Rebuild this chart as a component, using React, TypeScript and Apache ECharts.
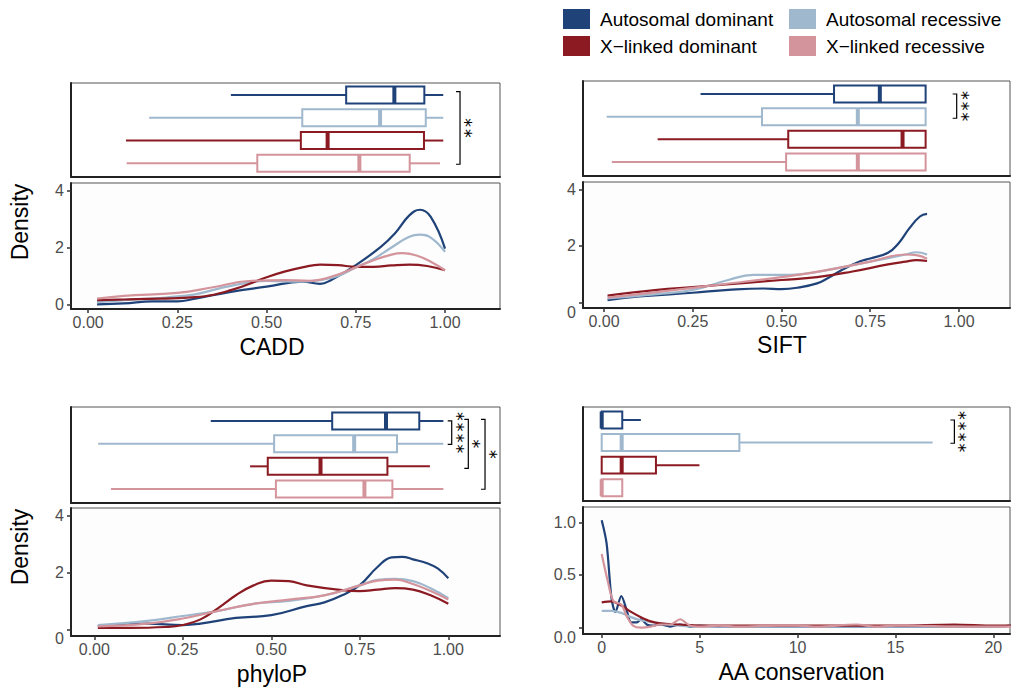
import React, { useEffect, useRef } from 'react';
import * as echarts from 'echarts';

const FONT = '"Liberation Sans", Arial, Helvetica, sans-serif';
const STAR_FONT = '"DejaVu Sans Mono", "Liberation Mono", monospace';

const GROUPS = ['Autosomal dominant', 'Autosomal recessive', 'X−linked dominant', 'X−linked recessive'];
const COLORS = ['#1f4279', '#9fb8cd', '#8b1a22', '#d4949c'];

const TITLES = ['CADD', 'SIFT', 'phyloP', 'AA conservation'];
const X_TICKS_SCORE = [0, 0.25, 0.5, 0.75, 1];
const X_TICKS_AA = [0, 5, 10, 15, 20];
const Y_TICKS_DENS = [0, 2, 4];
const Y_TICKS_AA = [0, 0.5, 1.0];

// box stats: [min, q1, median, q3, max] for AD, AR, XD, XR
const CADD_BOX = [
  [0.40, 0.723, 0.858, 0.942, 0.995],
  [0.171, 0.600, 0.818, 0.946, 0.995],
  [0.106, 0.596, 0.671, 0.941, 0.995],
  [0.108, 0.474, 0.760, 0.901, 0.986],
];
const SIFT_BOX = [
  [0.272, 0.648, 0.777, 0.906, 0.906],
  [0.0075, 0.445, 0.715, 0.906, 0.906],
  [0.151, 0.519, 0.841, 0.906, 0.906],
  [0.022, 0.513, 0.715, 0.906, 0.906],
];
const PHYLOP_BOX = [
  [0.329, 0.672, 0.824, 0.918, 0.986],
  [0.011, 0.508, 0.734, 0.855, 0.986],
  [0.44, 0.49, 0.639, 0.828, 0.948],
  [0.047, 0.513, 0.763, 0.842, 0.986],
];
const AA_BOX = [
  [0, 0, 0, 1.05, 2.0],
  [0, 0, 1.02, 7.03, 16.9],
  [0, 0, 1.02, 2.77, 4.99],
  [0, 0, 0, 1.05, 1.05],
];

// density curves [x, density]
const CADD_AD = [[0.025, 0.0], [0.1, 0.03], [0.18, 0.1], [0.25, 0.1], [0.3, 0.2], [0.4, 0.44], [0.5, 0.62], [0.6, 0.8], [0.65, 0.72], [0.68, 0.85], [0.75, 1.38], [0.82, 2.02], [0.86, 2.5], [0.9, 3.13], [0.93, 3.33], [0.96, 3.08], [1.0, 1.96]];
const CADD_AR = [[0.025, 0.08], [0.1, 0.15], [0.2, 0.22], [0.25, 0.28], [0.3, 0.35], [0.4, 0.65], [0.5, 0.82], [0.6, 0.8], [0.65, 0.85], [0.7, 1.0], [0.75, 1.3], [0.8, 1.6], [0.85, 2.0], [0.9, 2.38], [0.93, 2.45], [0.96, 2.35], [1.0, 1.85]];
const CADD_XD = [[0.025, 0.15], [0.1, 0.17], [0.2, 0.2], [0.3, 0.25], [0.4, 0.5], [0.5, 0.95], [0.55, 1.15], [0.6, 1.3], [0.65, 1.4], [0.7, 1.38], [0.75, 1.32], [0.8, 1.32], [0.85, 1.37], [0.9, 1.4], [0.95, 1.35], [1.0, 1.2]];
const CADD_XR = [[0.025, 0.2], [0.1, 0.3], [0.25, 0.4], [0.35, 0.6], [0.45, 0.82], [0.55, 0.85], [0.62, 0.83], [0.7, 1.05], [0.75, 1.3], [0.8, 1.55], [0.85, 1.75], [0.88, 1.8], [0.92, 1.72], [0.96, 1.5], [1.0, 1.2]];

const SIFT_AD = [[0.01, 0.09], [0.1, 0.22], [0.25, 0.35], [0.35, 0.45], [0.45, 0.5], [0.5, 0.48], [0.55, 0.54], [0.6, 0.68], [0.63, 0.86], [0.67, 1.15], [0.72, 1.45], [0.75, 1.56], [0.8, 1.76], [0.83, 2.1], [0.86, 2.62], [0.89, 3.04], [0.91, 3.13]];
const SIFT_AR = [[0.01, 0.15], [0.15, 0.3], [0.25, 0.45], [0.35, 0.8], [0.42, 0.98], [0.5, 0.98], [0.55, 1.0], [0.65, 1.2], [0.75, 1.45], [0.85, 1.7], [0.88, 1.78], [0.91, 1.7]];
const SIFT_XD = [[0.01, 0.25], [0.15, 0.45], [0.25, 0.55], [0.4, 0.7], [0.5, 0.8], [0.6, 0.9], [0.7, 1.1], [0.8, 1.35], [0.85, 1.45], [0.88, 1.5], [0.91, 1.47]];
const SIFT_XR = [[0.01, 0.18], [0.2, 0.45], [0.3, 0.6], [0.5, 0.9], [0.65, 1.2], [0.75, 1.45], [0.85, 1.7], [0.88, 1.68], [0.91, 1.55]];

const PHYLOP_AD = [[0.01, 0.1], [0.15, 0.2], [0.25, 0.15], [0.3, 0.2], [0.4, 0.4], [0.5, 0.5], [0.6, 0.82], [0.65, 0.95], [0.7, 1.2], [0.75, 1.56], [0.8, 2.2], [0.84, 2.54], [0.87, 2.56], [0.9, 2.47], [0.94, 2.33], [0.97, 2.15], [1.0, 1.8]];
const PHYLOP_AR = [[0.01, 0.15], [0.15, 0.3], [0.25, 0.47], [0.35, 0.65], [0.45, 0.9], [0.55, 1.0], [0.65, 1.2], [0.75, 1.55], [0.8, 1.75], [0.85, 1.78], [0.9, 1.7], [0.95, 1.45], [1.0, 1.1]];
const PHYLOP_XD = [[0.01, 0.05], [0.1, 0.05], [0.2, 0.08], [0.25, 0.15], [0.3, 0.35], [0.35, 0.75], [0.4, 1.2], [0.45, 1.55], [0.5, 1.72], [0.55, 1.7], [0.6, 1.55], [0.7, 1.38], [0.75, 1.35], [0.8, 1.4], [0.85, 1.45], [0.9, 1.4], [0.95, 1.2], [1.0, 0.9]];
const PHYLOP_XR = [[0.01, 0.1], [0.15, 0.2], [0.25, 0.38], [0.35, 0.65], [0.45, 0.9], [0.55, 1.05], [0.65, 1.2], [0.75, 1.55], [0.8, 1.72], [0.85, 1.75], [0.9, 1.6], [0.95, 1.35], [1.0, 1.05]];

const AA_AD = [[0, 1.02], [0.25, 0.8], [0.5, 0.28], [0.7, 0.15], [1.0, 0.3], [1.3, 0.15], [1.5, 0.05], [1.8, 0.05], [2.0, 0.08], [2.3, 0.03], [2.6, 0.02], [3.0, 0.03], [3.5, 0.01], [4.0, 0.03], [4.5, 0.01], [5, 0.02], [6, 0.01], [8, 0.01], [10, 0.01], [12, 0.01], [14, 0.01], [16, 0.01], [18, 0.01], [20, 0.01], [21, 0.02]];
const AA_AR = [[0, 0.16], [0.5, 0.16], [1, 0.14], [1.5, 0.1], [2, 0.07], [3, 0.04], [4, 0.02], [5, 0.01], [10, 0.01], [20, 0.01], [21, 0.02]];
const AA_XD = [[0, 0.24], [0.5, 0.25], [1, 0.21], [1.5, 0.15], [2, 0.1], [2.5, 0.06], [3, 0.04], [4, 0.03], [5, 0.02], [10, 0.02], [15, 0.02], [18, 0.03], [20, 0.02], [21, 0.02]];
const AA_XR = [[0, 0.7], [0.3, 0.45], [0.6, 0.25], [1, 0.22], [1.3, 0.1], [1.6, 0.02], [2, 0.0], [2.5, 0.01], [3, 0.03], [3.5, 0.03], [4, 0.08], [4.5, 0.02], [5, 0.01], [6, 0.02], [7, 0.01], [9, 0.02], [10, 0.02], [11, 0.01], [13, 0.03], [14, 0.01], [15, 0.02], [16, 0.02], [18, 0.01], [20, 0.01], [21, 0.01]];

// significance brackets: x position, from/to group position, label
const CADD_SIG = [{ x: 1.042, from: -0.145, to: 3.04, label: '**' }];
const SIFT_SIG = [{ x: 0.9935, from: 0, to: 1.07, label: '***' }];
const PHYLOP_SIG = [
  { x: 1.0096, from: -0.01, to: 1.03, label: '****' },
  { x: 1.0565, from: -0.075, to: 2.09, label: '*' },
  { x: 1.1037, from: -0.075, to: 3.01, label: '*' },
];
const AA_SIG = [{ x: 18.01, from: 0, to: 1.03, label: '****' }];

// layout
const PANELS = [
  {
    box: { left: 71, top: 83, width: 429, height: 94 }, dens: { left: 71, top: 183, width: 429, height: 126 },
    xr: [-0.048, 1.154], by: [-0.527, 3.601], dy: [-0.165, 4.271],
    xt: X_TICKS_SCORE, yt: Y_TICKS_DENS, xd: 2, yd: 0, zeroShift: false,
    boxes: CADD_BOX, curves: [CADD_AD, CADD_AR, CADD_XD, CADD_XR], sig: CADD_SIG,
    title: { x: 272, y: 346.5 }, ylab: { x: 20, y: 222 },
  },
  {
    box: { left: 583, top: 81, width: 427, height: 95 }, dens: { left: 583, top: 182, width: 427, height: 126 },
    xr: [-0.0592, 1.1437], by: [-0.573, 3.617], dy: [-0.187, 4.257],
    xt: X_TICKS_SCORE, yt: Y_TICKS_DENS, xd: 2, yd: 0, zeroShift: true,
    boxes: SIFT_BOX, curves: [SIFT_AD, SIFT_AR, SIFT_XD, SIFT_XR], sig: SIFT_SIG,
    title: { x: 782, y: 345 }, ylab: null,
  },
  {
    box: { left: 71, top: 407, width: 429, height: 96 }, dens: { left: 71, top: 508, width: 429, height: 128 },
    xr: [-0.0658, 1.146], by: [-0.618, 3.617], dy: [-0.237, 4.282],
    xt: X_TICKS_SCORE, yt: Y_TICKS_DENS, xd: 2, yd: 0, zeroShift: true,
    boxes: PHYLOP_BOX, curves: [PHYLOP_AD, PHYLOP_AR, PHYLOP_XD, PHYLOP_XR], sig: PHYLOP_SIG,
    title: { x: 272, y: 673.5 }, ylab: { x: 20, y: 547 },
  },
  {
    box: { left: 583, top: 407, width: 427, height: 94 }, dens: { left: 583, top: 507, width: 427, height: 127 },
    xr: [-0.955, 20.85], by: [-0.576, 3.589], dy: [-0.06, 1.145],
    xt: X_TICKS_AA, yt: Y_TICKS_AA, xd: 0, yd: 1, zeroShift: true,
    boxes: AA_BOX, curves: [AA_AD, AA_AR, AA_XD, AA_XR], sig: AA_SIG,
    title: { x: 801.5, y: 671.8 }, ylab: null,
  },
];

const BOX_HALF = 0.375;

function boxSeries(axisIdx: number, stats: number[][]) {
  return {
    type: 'custom',
    xAxisIndex: axisIdx,
    yAxisIndex: axisIdx,
    data: stats.map((s, i) => [i, ...s]),
    encode: { x: [1, 2, 3, 4, 5], y: 0 },
    renderItem: (params: any, api: any) => {
      const i = api.value(0);
      const v = [1, 2, 3, 4, 5].map((d) => api.value(d));
      const px = v.map((val) => api.coord([val, i])[0]);
      const cy = api.coord([v[0], i])[1];
      const half = Math.abs(api.size([0, BOX_HALF])[1]);
      const c = COLORS[i];
      const children: any[] = [];
      if (px[1] - px[0] > 0.5) children.push({ type: 'line', shape: { x1: px[0], y1: cy, x2: px[1], y2: cy }, style: { stroke: c, lineWidth: 2 } });
      if (px[4] - px[3] > 0.5) children.push({ type: 'line', shape: { x1: px[3], y1: cy, x2: px[4], y2: cy }, style: { stroke: c, lineWidth: 2 } });
      children.push({ type: 'rect', shape: { x: px[1], y: cy - half, width: px[3] - px[1], height: 2 * half }, style: { fill: '#ffffff', stroke: c, lineWidth: 2 } });
      children.push({ type: 'line', shape: { x1: px[2], y1: cy - half, x2: px[2], y2: cy + half }, style: { stroke: c, lineWidth: 4 } });
      return { type: 'group', children };
    },
    z: 3,
  };
}

function sigSeries(axisIdx: number, sig: any[]) {
  return {
    type: 'custom',
    xAxisIndex: axisIdx,
    yAxisIndex: axisIdx,
    data: sig.map((b) => [b.x, b.from, b.to]),
    encode: { x: 0, y: [1, 2] },
    clip: false,
    renderItem: (params: any, api: any) => {
      const b = sig[params.dataIndex];
      const p1 = api.coord([api.value(0), api.value(1)]);
      const p2 = api.coord([api.value(0), api.value(2)]);
      const tick = 4;
      return {
        type: 'group',
        children: [
          {
            type: 'polyline',
            shape: { points: [[p1[0] - tick, p1[1]], [p1[0], p1[1]], [p2[0], p2[1]], [p2[0] - tick, p2[1]]] },
            style: { stroke: '#000', lineWidth: 1.2, fill: 'none' },
          },
          {
            type: 'text',
            x: p1[0] + 10.5,
            y: (p1[1] + p2[1]) / 2,
            rotation: Math.PI / 2,
            style: {
              text: b.label,
              fill: '#000',
              fontSize: 18,
              fontFamily: STAR_FONT,
              align: 'center',
              verticalAlign: 'middle',
              lineHeight: 9,
            },
          },
        ],
      };
    },
    z: 4,
  };
}

function buildOption() {
  const grid: any[] = [];
  const xAxis: any[] = [];
  const yAxis: any[] = [];
  const series: any[] = [];
  const graphic: any[] = [];

  PANELS.forEach((p, pi) => {
    const bi = grid.length;
    grid.push({ ...p.box, show: true, borderColor: '#555', borderWidth: 1, backgroundColor: '#ffffff', containLabel: false });
    const di = grid.length;
    grid.push({ ...p.dens, show: true, borderColor: '#555', borderWidth: 1, backgroundColor: '#fdfdfd', containLabel: false });

    const axLine = { show: true, onZero: false, lineStyle: { color: '#222', width: 2 } };

    xAxis.push({ gridIndex: bi, type: 'value', min: p.xr[0], max: p.xr[1], axisLine: axLine, axisTick: { show: false }, axisLabel: { show: false }, splitLine: { show: false } });
    yAxis.push({ gridIndex: bi, type: 'value', inverse: true, min: p.by[0], max: p.by[1], axisLine: axLine, axisTick: { show: false }, axisLabel: { show: false }, splitLine: { show: false } });

    xAxis.push({
      gridIndex: di, type: 'value', min: p.xr[0], max: p.xr[1],
      axisLine: axLine,
      axisTick: { show: true, length: 4, customValues: p.xt, lineStyle: { color: '#333', width: 1.5 } },
      axisLabel: { show: true, customValues: p.xt, margin: 5, fontSize: 16, color: '#4d4d4d', fontFamily: FONT, formatter: (v: number) => v.toFixed(p.xd) },
      splitLine: { show: false },
    });
    yAxis.push({
      gridIndex: di, type: 'value', min: p.dy[0], max: p.dy[1],
      axisLine: axLine,
      axisTick: { show: true, length: 4, customValues: p.yt, lineStyle: { color: '#333', width: 1.5 } },
      axisLabel: {
        show: true, customValues: p.yt, margin: 7, fontSize: 16, color: '#4d4d4d', fontFamily: FONT,
        formatter: (v: number) => (p.zeroShift && Math.abs(v) < 1e-9 ? '{lo|' + v.toFixed(p.yd) + '}' : v.toFixed(p.yd)),
        rich: { lo: { padding: [19, 0, 0, 0], fontSize: 16, color: '#4d4d4d', fontFamily: FONT } },
      },
      splitLine: { show: false },
    });

    series.push(boxSeries(bi, p.boxes));
    series.push(sigSeries(bi, p.sig));
    p.curves.forEach((c, gi) => {
      series.push({
        name: GROUPS[gi],
        type: 'line',
        xAxisIndex: di,
        yAxisIndex: di,
        data: c,
        smooth: p.xd === 0 ? 0.3 : 0.45,
        showSymbol: false,
        symbol: 'none',
        lineStyle: { color: COLORS[gi], width: 2.2 },
        itemStyle: { color: COLORS[gi] },
        z: 2,
      });
    });

    graphic.push({
      type: 'text', x: p.title.x, y: p.title.y,
      style: { text: TITLES[pi], fontSize: 23, fill: '#000', fontFamily: FONT, align: 'center', verticalAlign: 'middle' },
    });
    if (p.ylab) {
      graphic.push({
        type: 'text', x: p.ylab.x, y: p.ylab.y, rotation: Math.PI / 2,
        style: { text: 'Density', fontSize: 23, fill: '#000', fontFamily: FONT, align: 'center', verticalAlign: 'middle' },
      });
    }
  });

  const legendBase = {
    orient: 'vertical',
    top: 9,
    itemWidth: 27,
    itemHeight: 20,
    itemGap: 7,
    icon: 'rect',
    padding: 0,
    selectedMode: false,
    textStyle: { fontSize: 19, color: '#000', fontFamily: FONT, padding: [0, 0, 0, 5], lineHeight: 20 },
  };

  return {
    animation: false,
    backgroundColor: '#ffffff',
    grid,
    xAxis,
    yAxis,
    series,
    graphic,
    legend: [
      { ...legendBase, left: 563, data: [GROUPS[0], GROUPS[2]] },
      { ...legendBase, left: 789, data: [GROUPS[1], GROUPS[3]] },
    ],
  };
}

export default function App() {
  const ref = useRef<HTMLDivElement>(null);
  useEffect(() => {
    if (!ref.current) return;
    const chart = echarts.init(ref.current, null, { renderer: 'svg' });
    chart.setOption(buildOption() as any);
    return () => chart.dispose();
  }, []);
  return <div ref={ref} style={{ position: 'fixed', left: 0, top: 0, width: 1011, height: 689, background: '#fff' }} />;
}
